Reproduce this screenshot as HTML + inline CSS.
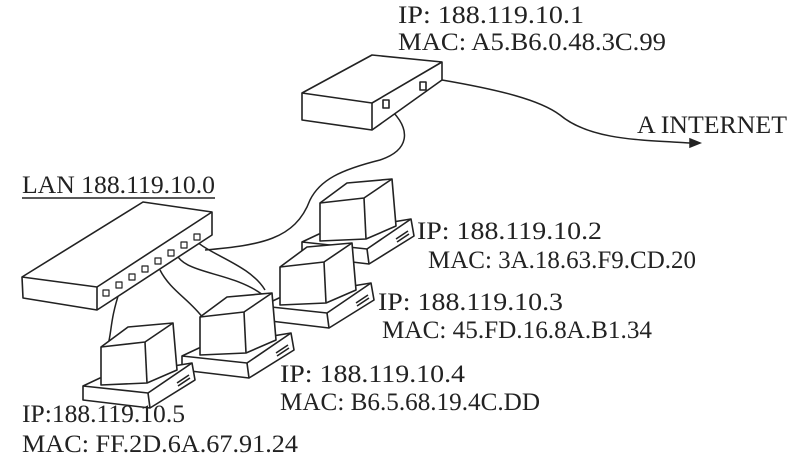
<!DOCTYPE html>
<html><head><style>
html,body{margin:0;padding:0;background:#fff;}
svg{display:block}
text{font-family:"Liberation Serif",serif;font-size:25px;fill:#222;}
</style></head><body>
<svg width="796" height="470" viewBox="0 0 796 470" xmlns="http://www.w3.org/2000/svg">
<defs>
<g id="pc" fill="#fff" stroke="#222" stroke-width="1.6" stroke-linejoin="round">
  <polygon points="-18,39 -1,31 91,16 94,33 49,61 -18,53"/>
  <polyline points="-18,39 47,46 91,16" fill="none"/>
  <line x1="47" y1="46" x2="49" y2="61"/>
  <line x1="76" y1="36" x2="88" y2="28"/>
  <line x1="77" y1="39" x2="89" y2="31"/>
  <polygon points="0,0 27,-20 72,-24 76,23 46,36 0,38"/>
  <polyline points="0,0 44,-5 72,-24" fill="none"/>
  <line x1="44" y1="-5" x2="46" y2="36"/>
</g>
</defs>
<g fill="none" stroke="#222" stroke-width="1.5">
  <path d="M442,80 C500,90 540,100 560,115 C590,140 640,140 690,143"/>
  <polygon points="690,139 700,143 690,147" fill="#222"/>
  <path d="M393,112 C410,130 410,150 380,160 C340,170 320,180 310,200 C295,240 260,245 205,250"/>
  <path d="M195,240 C210,255 250,265 265,290"/>
  <path d="M175,250 C180,275 230,270 263,295"/>
  <path d="M160,270 C170,290 190,300 203,318"/>
  <path d="M120,290 C110,320 112,330 108,345"/>
</g>
<g fill="#fff" stroke="#222" stroke-width="1.6" stroke-linejoin="round">
  <polygon points="302,93 372,55 442,62 442,80 372,130 302,120"/>
  <polyline points="302,93 372,103 442,62" fill="none"/>
  <line x1="372" y1="103" x2="372" y2="130"/>
  <rect x="383" y="100" width="6" height="8"/>
  <rect x="420" y="82" width="6" height="8"/>
</g>
<g fill="#fff" stroke="#222" stroke-width="1.6" stroke-linejoin="round">
  <polygon points="22,277 143,202 212,212 212,235 97,310 23,298"/>
  <polyline points="22,277 97,287 212,212" fill="none"/>
  <line x1="97" y1="287" x2="97" y2="310"/>
  <g stroke-width="1.2">
    <rect x="103" y="290" width="6" height="6"/><rect x="116" y="282" width="6" height="6"/>
    <rect x="129" y="274" width="6" height="6"/><rect x="142" y="266" width="6" height="6"/>
    <rect x="155" y="258" width="6" height="6"/><rect x="168" y="250" width="6" height="6"/>
    <rect x="181" y="242" width="6" height="6"/><rect x="194" y="234" width="6" height="6"/>
  </g>
</g>
<use href="#pc" x="320" y="203"/>
<use href="#pc" x="280" y="267"/>
<use href="#pc" x="200" y="317"/>
<use href="#pc" x="101" y="347"/>
<g>
<text x="398" y="23" textLength="186" lengthAdjust="spacingAndGlyphs">IP: 188.119.10.1</text>
<text x="398" y="50" textLength="268" lengthAdjust="spacingAndGlyphs">MAC: A5.B6.0.48.3C.99</text>
<text x="637" y="133" textLength="150" lengthAdjust="spacingAndGlyphs">A INTERNET</text>
<text x="22" y="193" textLength="193" lengthAdjust="spacingAndGlyphs">LAN 188.119.10.0</text>
<text x="417" y="239" textLength="185" lengthAdjust="spacingAndGlyphs">IP: 188.119.10.2</text>
<text x="428" y="268" textLength="268" lengthAdjust="spacingAndGlyphs">MAC: 3A.18.63.F9.CD.20</text>
<text x="378" y="310" textLength="185" lengthAdjust="spacingAndGlyphs">IP: 188.119.10.3</text>
<text x="382" y="338" textLength="270" lengthAdjust="spacingAndGlyphs">MAC: 45.FD.16.8A.B1.34</text>
<text x="280" y="382" textLength="185" lengthAdjust="spacingAndGlyphs">IP: 188.119.10.4</text>
<text x="280" y="410" textLength="260" lengthAdjust="spacingAndGlyphs">MAC: B6.5.68.19.4C.DD</text>
<text x="22" y="422" textLength="163" lengthAdjust="spacingAndGlyphs">IP:188.119.10.5</text>
<text x="22" y="452" textLength="276" lengthAdjust="spacingAndGlyphs">MAC: FF.2D.6A.67.91.24</text>
</g>
<line x1="22" y1="198" x2="215" y2="198" stroke="#222" stroke-width="1.5"/>
</svg>
</body></html>
